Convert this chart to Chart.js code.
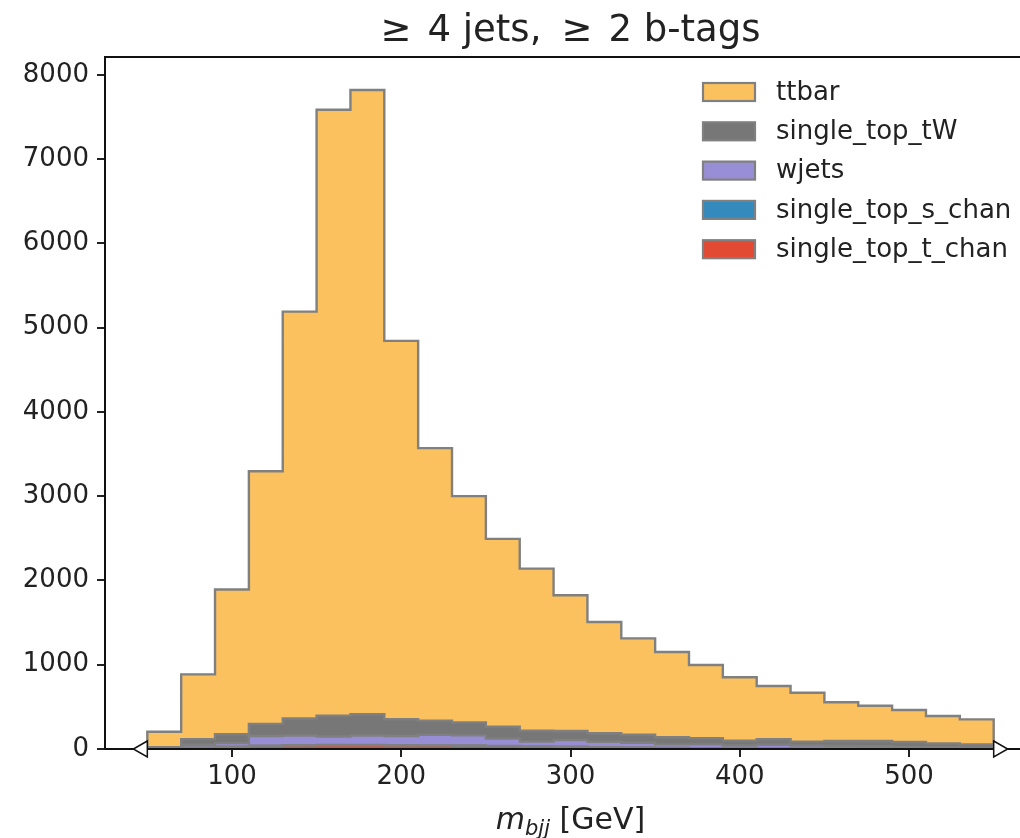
<!DOCTYPE html>
<html><head><meta charset="utf-8">
<script src="https://cdn.jsdelivr.net/npm/chart.js@4/dist/chart.umd.min.js"></script>
<style>
html,body{margin:0;padding:0;background:#fff;overflow:hidden;}
#wrap{width:1020px;height:838px;overflow:hidden;position:relative;}
#c{position:absolute;left:0;top:0;}
</style></head><body>
<div id="wrap"><canvas id="c" width="1040" height="838"></canvas></div>
<script>
// ---- data ----
const binEdges = [50,70,90,110,130,150,170,190,210,230,250,270,290,310,330,350,370,390,410,430,450,470,490,510,530,550];
const ttbar = [185,768,1718,2997,4828,7189,7407,4490,3233,2684,2228,1922,1610,1321,1143,1012,870,752,633,581,460,419,380,325,297];
const single_top_tW = [15,66,105,144,202,248,253,199,169,154,142,131,107,101,95,84,72,57,64,45,60,63,58,47,40];
const wjets = [2,36,43,116,114,99,111,108,125,121,86,57,81,63,58,42,46,35,45,37,32,29,23,18,14];
const single_top_s_chan = [0,1,2,3,4,4,4,4,3,3,3,2,2,2,1,1,1,1,1,1,0,0,0,0,0];
const single_top_t_chan = [3,14,25,35,42,45,45,42,40,38,34,28,24,20,16,12,8,6,5,4,3,3,2,2,1];
const xTicks = [100,200,300,400,500];
const yTicks = [0,1000,2000,3000,4000,5000,6000,7000,8000];
const legendOrder = ['ttbar','single_top_tW','wjets','single_top_s_chan','single_top_t_chan'];
const titleParts = ['\u2265', '4 jets,', '\u2265', '2 b-tags'];

// ---- styles ----
const colors = {ttbar:'#FBC15E', single_top_tW:'#777777', wjets:'#988ED5', single_top_s_chan:'#348ABD', single_top_t_chan:'#E24A33'};
const edgeColor = '#808080';
const FONT = "'DejaVu Sans'";
const TXT = '#222222';

// stack bottom -> top
const stackOrder = [
  ['single_top_t_chan', single_top_t_chan],
  ['single_top_s_chan', single_top_s_chan],
  ['wjets', wjets],
  ['single_top_tW', single_top_tW],
  ['ttbar', ttbar]
];
const cum = new Array(binEdges.length - 1).fill(0);
const layers = stackOrder.map(([name, vals]) => {
  for (let i = 0; i < cum.length; i++) cum[i] += vals[i];
  const pts = [{x: binEdges[0], y: 0}];
  for (let i = 0; i < cum.length; i++) pts.push({x: binEdges[i], y: cum[i]});
  const last = binEdges[binEdges.length - 1];
  pts.push({x: last, y: cum[cum.length - 1]});
  pts.push({x: last, y: 0});
  return {name, pts};
});
const maxTotal = Math.max(...cum);

const datasets = layers.map(l => ({
  label: l.name,
  data: l.pts,
  stepped: 'before',
  fill: 'origin',
  backgroundColor: colors[l.name],
  borderColor: edgeColor,
  borderWidth: 2.4,
  pointRadius: 0,
  tension: 0
}));

const decor = {
  id: 'decor',
  afterDatasetsDraw(chart) {
    const {ctx, chartArea: a, scales} = chart;
    ctx.save();
    ctx.strokeStyle = '#111';
    ctx.lineWidth = 2;
    ctx.beginPath();
    ctx.moveTo(a.left, a.bottom); ctx.lineTo(a.left, a.top);
    ctx.lineTo(a.right, a.top); ctx.lineTo(a.right, a.bottom);
    ctx.lineTo(a.left, a.bottom);
    ctx.stroke();
    // flow triangles
    const y0 = a.bottom;
    const xl = scales.x.getPixelForValue(binEdges[0]);
    const xr = scales.x.getPixelForValue(binEdges[binEdges.length - 1]);
    ctx.fillStyle = '#fff';
    ctx.lineWidth = 1.5;
    ctx.beginPath();
    ctx.moveTo(xl, y0 - 8); ctx.lineTo(xl - 14, y0); ctx.lineTo(xl, y0 + 8); ctx.closePath();
    ctx.fill(); ctx.stroke();
    ctx.beginPath();
    ctx.moveTo(xr, y0 - 8); ctx.lineTo(xr + 14, y0); ctx.lineTo(xr, y0 + 8); ctx.closePath();
    ctx.fill(); ctx.stroke();
    ctx.restore();
  },
  afterDraw(chart) {
    const {ctx, chartArea: a} = chart;
    ctx.save();
    ctx.fillStyle = TXT;
    // title (math-style spacing around the relation sign)
    ctx.font = '37px ' + FONT;
    ctx.textAlign = 'left';
    ctx.textBaseline = 'alphabetic';
    const cx = (a.left + a.right) / 2;
    const rel = 16, sp = 20;
    const w = titleParts.map(t => ctx.measureText(t).width);
    const total = w[0] + rel + w[1] + sp + w[2] + rel + w[3];
    let tx = cx - total / 2;
    ctx.fillText(titleParts[0], tx, 41); tx += w[0] + rel;
    ctx.fillText(titleParts[1], tx, 41); tx += w[1] + sp;
    ctx.fillText(titleParts[2], tx, 41); tx += w[2] + rel;
    ctx.fillText(titleParts[3], tx, 41);
    // x label: m_{bjj} [GeV]
    const base = 829;
    ctx.font = 'italic 30px ' + FONT;
    const wm = ctx.measureText('m').width;
    ctx.font = 'italic 21px ' + FONT;
    const wsub = ctx.measureText('bjj').width;
    ctx.font = '30px ' + FONT;
    const wrest = ctx.measureText(' [GeV]').width;
    let x = cx - (wm + wsub + wrest) / 2;
    ctx.font = 'italic 30px ' + FONT;
    ctx.fillText('m', x, base); x += wm;
    ctx.font = 'italic 21px ' + FONT;
    ctx.fillText('bjj', x, base + 6); x += wsub;
    ctx.font = '30px ' + FONT;
    ctx.fillText(' [GeV]', x, base);
    // legend
    ctx.font = '26px ' + FONT;
    ctx.textBaseline = 'middle';
    legendOrder.forEach((name, i) => {
      const yc = 92 + 39.3 * i;
      ctx.fillStyle = colors[name];
      ctx.fillRect(703, yc - 9, 52, 18);
      ctx.strokeStyle = edgeColor;
      ctx.lineWidth = 2.2;
      ctx.strokeRect(703, yc - 9, 52, 18);
      ctx.fillStyle = TXT;
      ctx.fillText(name, 776, yc + 1);
    });
    ctx.restore();
  }
};

new Chart(document.getElementById('c'), {
  type: 'line',
  data: {datasets},
  options: {
    responsive: false,
    animation: false,
    events: [],
    layout: {padding: {top: 57, left: 0, right: 4, bottom: 0}},
    plugins: {legend: {display: false}, tooltip: {enabled: false}, title: {display: false}},
    scales: {
      x: {
        type: 'linear', min: 25, max: 575,
        afterBuildTicks: s => { s.ticks = xTicks.map(v => ({value: v})); },
        afterFit: s => { s.height = 89; },
        border: {display: false},
        grid: {display: true, drawOnChartArea: false, drawTicks: true, tickLength: 8, color: '#222', lineWidth: 2},
        ticks: {font: {family: 'DejaVu Sans', size: 26}, color: TXT, padding: 5, maxRotation: 0, callback: v => String(v)}
      },
      y: {
        type: 'linear', min: 0, max: maxTotal * 1.05,
        afterBuildTicks: s => { s.ticks = yTicks.map(v => ({value: v})); },
        afterFit: s => { s.width = 105; },
        border: {display: false},
        grid: {display: true, drawOnChartArea: false, drawTicks: true, tickLength: 8, color: '#222', lineWidth: 2},
        ticks: {font: {family: 'DejaVu Sans', size: 26}, color: TXT, padding: 8, callback: v => String(v)}
      }
    }
  },
  plugins: [decor]
});
</script>
</body></html>
